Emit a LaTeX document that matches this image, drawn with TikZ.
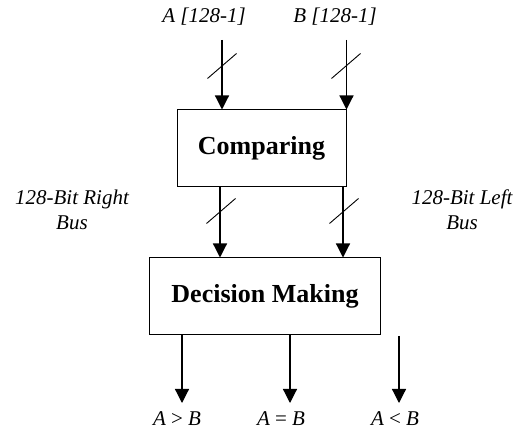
\documentclass[tikz,border=0pt]{standalone}
\usepackage{fontspec}
\setmainfont{Liberation Serif}
\usetikzlibrary{arrows.meta,calc}
\begin{document}
\begin{tikzpicture}[x=1pt,y=-1pt,line width=1.2pt,>={Triangle[width=14pt,length=14pt]}]
	\tikzset{block/.style={draw,line width=1pt,inner sep=0pt,font=\fontsize{26}{30}\selectfont\bfseries},
		lab/.style={font=\fontsize{21}{25}\selectfont\itshape,align=center,inner sep=0pt},
		busmark/.style={line width=0.9pt}}
	\useasboundingbox (0,0) rectangle (528,430);
	% blocks
	\node[block,minimum width=169pt,minimum height=77pt] (cmp) at (261.5,148.5) {Comparing};
	\node[block,minimum width=231pt,minimum height=77pt] (dec) at (265,296.5) {Decision Making};
	% inputs
	\node[lab] (la) at (204,17) {A [128-1]};
	\node[lab] (lb) at (335,17) {B [128-1]};
	\coordinate (inA) at (222,40);
	\coordinate (inB) at (cmp.east |- 0,40);
	\draw[->] (inA) -- (inA |- cmp.north);
	\draw[->] (inB) -- (cmp.north east);
	% buses
	\coordinate (busR) at (220,187);
	\coordinate (busL) at (343,187);
	\draw[->] (busR |- cmp.south) -- (busR |- dec.north);
	\draw[->] (busL |- cmp.south) -- (busL |- dec.north);
	\node[lab] (lr) at (72,210) {128-Bit Right\\Bus};
	\node[lab] (ll) at (462,210) {128-Bit Left\\Bus};
	% bus marks
	\foreach \x/\y in {222/66,346/66,221/211,344/211}{
		\draw[busmark] (\x-14.5,\y+12.5)--(\x+14.5,\y-12.5);}
	% outputs
	\coordinate (oGt) at (182,335);
	\coordinate (oEq) at (290,335);
	\coordinate (oLt) at (399,336);
	\node[lab] (gt) at (177,419) {A \upshape>\itshape\ B};
	\node[lab] (eq) at (281,419) {A \upshape=\itshape\ B};
	\node[lab] (lt) at (395,419) {A \upshape<\itshape\ B};
	\draw[->] (oGt |- dec.south) -- (oGt |- 0,403);
	\draw[->] (oEq |- dec.south) -- (oEq |- 0,403);
	\draw[->] (oLt) -- (oLt |- 0,403);
\end{tikzpicture}
\end{document}
